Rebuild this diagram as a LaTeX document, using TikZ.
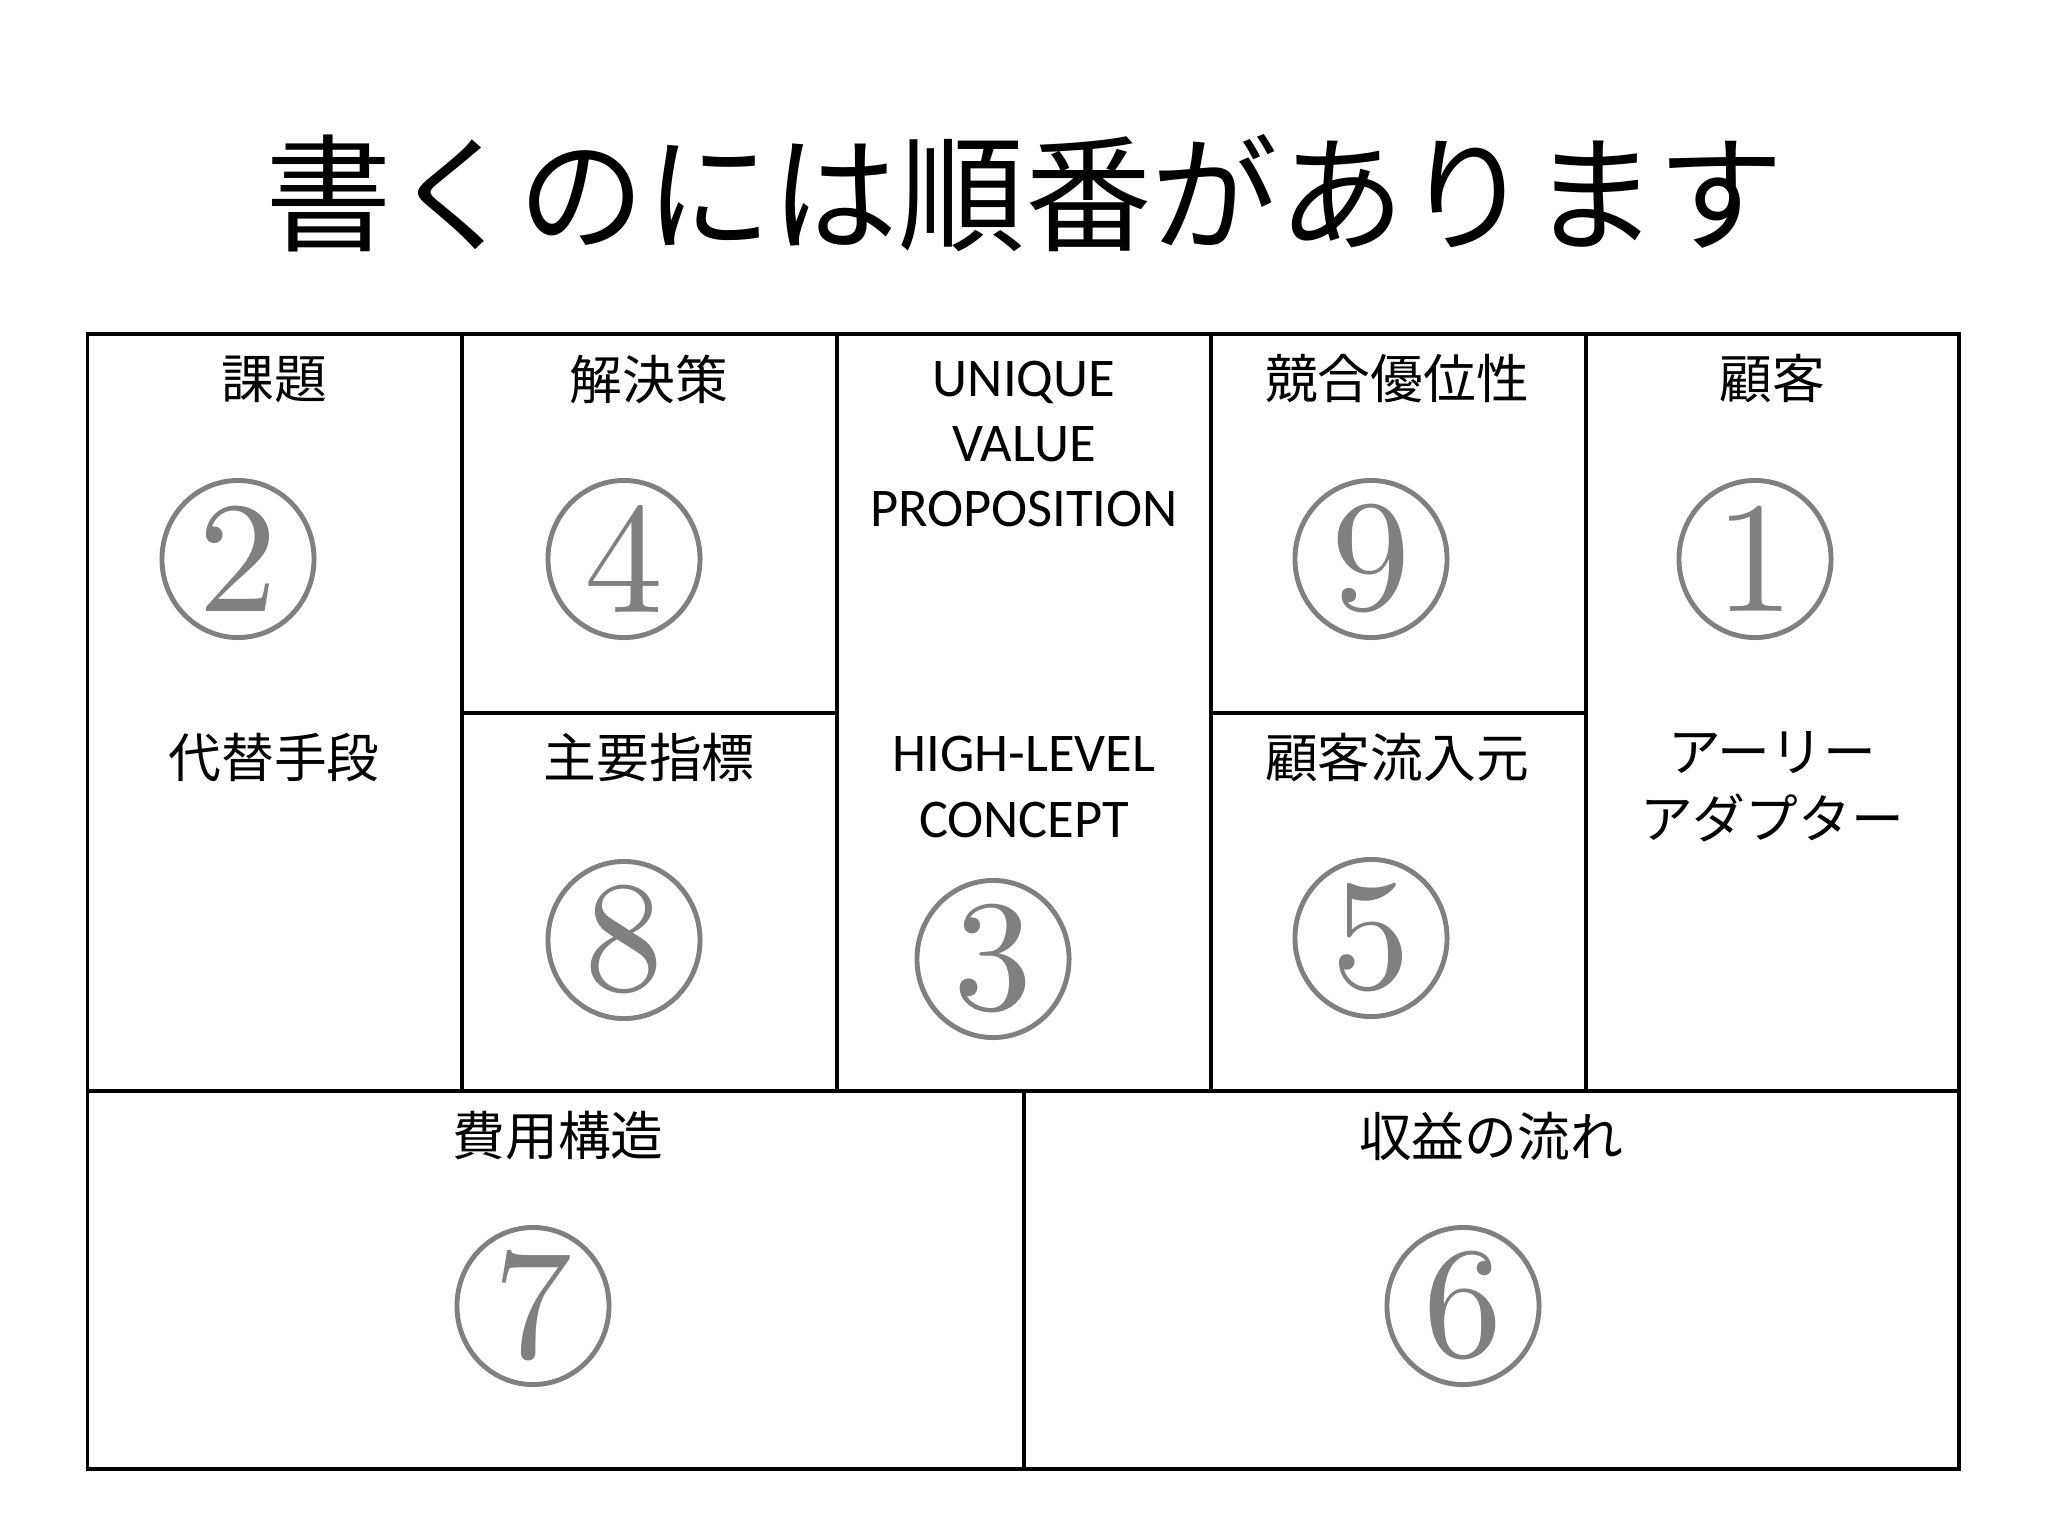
\documentclass[tikz,border=0pt]{standalone}
\usepackage{fontspec}
\newfontfamily\jpfont{Noto Sans CJK JP}
\newfontfamily\enfont{Carlito}
\newfontfamily\numfont{lmroman10-regular.otf}
\usetikzlibrary{shapes.geometric}
\definecolor{numgray}{HTML}{808080}

\begin{document}
\begin{tikzpicture}[x=0.01cm, y=-0.01cm,
    heading/.style={font=\jpfont\fontsize{36}{42}\selectfont},
    jplabel/.style={font=\jpfont\fontsize{15}{19}\selectfont, align=center},
    enlabel/.style={font=\enfont\fontsize{15.5}{18.5}\selectfont, align=center},
    stepnum/.style={ellipse, draw=numgray, line width=1.4pt, text=numgray,
      inner sep=0pt, minimum width=1.52cm, minimum height=1.57cm,
      font=\numfont\fontsize{45}{45}\selectfont}]

	\useasboundingbox (0,0) rectangle (2048,1536);

	% canvas grid
	\draw[line width=1pt] (87.5,334) rectangle (1959,1469);
	\draw[line width=1pt] (87.5,1091) -- (1959,1091);
	\foreach \x in {462,837,1211,1586}
	  \draw[line width=1pt] (\x,334) -- (\x,1091);
	\draw[line width=1pt] (462,713) -- (837,713);
	\draw[line width=1pt] (1211,713) -- (1586,713);
	\draw[line width=1pt] (1024,1091) -- (1024,1469);

	\node[heading] (title) at (1025,193) {書くのには順番があります};

	% labels
	\node[jplabel] (problem) at (274,379) {課題};
	\node[jplabel] (alt) at (274,757) {代替手段};
	\node[jplabel] (solution) at (649,379) {解決策};
	\node[jplabel] (metrics) at (649,757) {主要指標};
	\node[enlabel] (uvp) at (1024,444) {UNIQUE\\VALUE\\PROPOSITION};
	\node[enlabel] (hlc) at (1024,787) {HIGH-LEVEL\\CONCEPT};
	\node[jplabel] (advantage) at (1397,379) {競合優位性};
	\node[jplabel] (channels) at (1397,757) {顧客流入元};
	\node[jplabel] (customer) at (1772,379) {顧客};
	\node[jplabel] (early) at (1772,787) {アーリー\\アダプター};
	\node[jplabel] (cost) at (558,1136) {費用構造};
	\node[jplabel] (revenue) at (1491,1136) {収益の流れ};

	% order of writing
	\node[stepnum] (n1) at (1755,559) {1};
	\node[stepnum] (n2) at (238,559) {2};
	\node[stepnum] (n3) at (993,959) {3};
	\node[stepnum] (n4) at (624,559) {4};
	\node[stepnum] (n5) at (1371,938) {5};
	\node[stepnum] (n6) at (1463,1306) {6};
	\node[stepnum] (n7) at (533,1306) {7};
	\node[stepnum] (n8) at (624,940) {8};
	\node[stepnum] (n9) at (1371,559) {9};
    \end{tikzpicture}
\end{document}
